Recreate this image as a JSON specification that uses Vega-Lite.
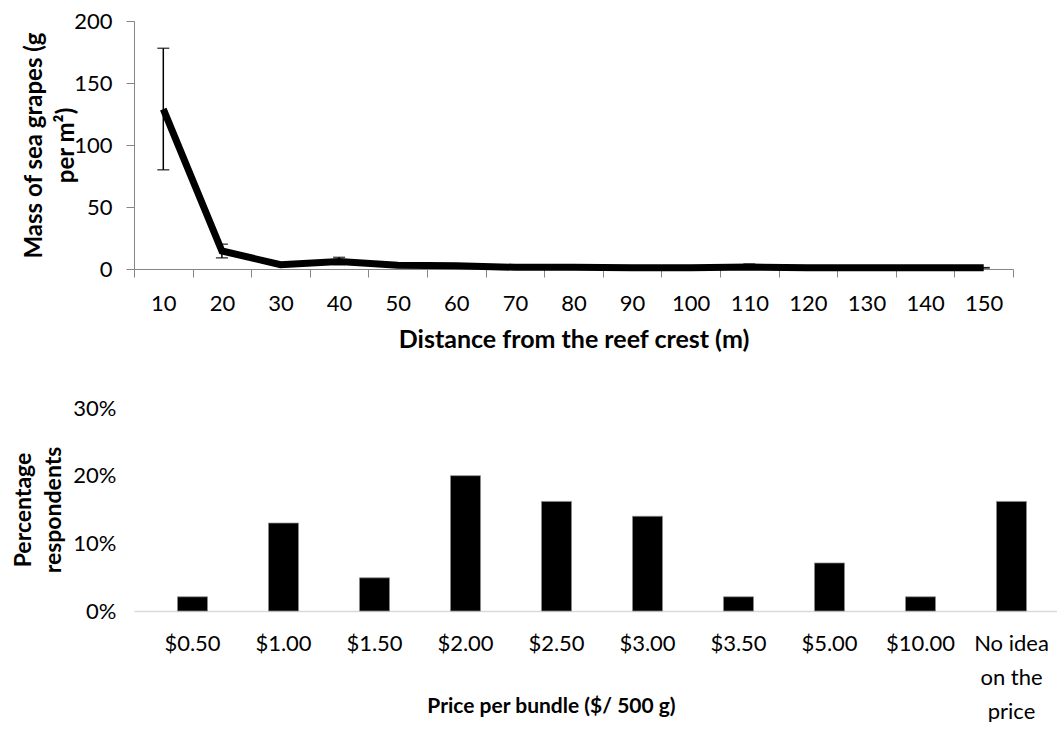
{
  "$schema": "https://vega.github.io/schema/vega-lite/v6.json",
  "background": "white",
  "padding": {"left": 11, "top": 10, "right": 0, "bottom": 0},
  "config": {
    "font": "Lato",
    "view": {"stroke": null},
    "axis": {"labelColor": "#000000", "titleColor": "#000000", "grid": false, "labelFont": "Lato", "titleFont": "Lato"}
  },
  "spacing": 45,
  "vconcat": [
    {
      "width": 879,
      "height": 248,
      "data": {
        "values": [
          {"distance": 10, "mass": 129, "lo": 80, "hi": 178},
          {"distance": 20, "mass": 14.5, "lo": 9, "hi": 20},
          {"distance": 30, "mass": 3.5, "lo": 2.5, "hi": 4.5},
          {"distance": 40, "mass": 6, "lo": 3.5, "hi": 9.4},
          {"distance": 50, "mass": 3, "lo": 2.5, "hi": 3.5},
          {"distance": 60, "mass": 2.6, "lo": 2.2, "hi": 3},
          {"distance": 70, "mass": 1.4, "lo": 1.2, "hi": 1.6},
          {"distance": 80, "mass": 1.4, "lo": 1.2, "hi": 1.6},
          {"distance": 90, "mass": 1, "lo": 0.8, "hi": 1.2},
          {"distance": 100, "mass": 1, "lo": 0.8, "hi": 1.2},
          {"distance": 110, "mass": 1.6, "lo": 0.5, "hi": 4},
          {"distance": 120, "mass": 1, "lo": 0.9, "hi": 1.1},
          {"distance": 130, "mass": 1, "lo": 0.9, "hi": 1.1},
          {"distance": 140, "mass": 1, "lo": 0.9, "hi": 1.1},
          {"distance": 150, "mass": 1, "lo": 0.9, "hi": 1.1}
        ]
      },
      "encoding": {
        "x": {
          "field": "distance",
          "type": "ordinal",
          "scale": {"type": "band", "paddingInner": 0, "paddingOuter": 0},
          "axis": {
            "title": "Distance from the reef crest (m)",
            "labelAngle": 0,
            "tickBand": "extent",
            "tickSize": 8,
            "tickColor": "#868686",
            "domainColor": "#868686",
            "labelFontSize": 22,
            "labelPadding": 16,
            "titleFontSize": 25,
            "titleFontWeight": "bold",
            "titleY": 78,
            "titleBaseline": "alphabetic"
          }
        }
      },
      "layer": [
        {
          "mark": {"type": "rule", "color": "black", "strokeWidth": 1.5},
          "encoding": {
            "y": {
              "field": "lo",
              "type": "quantitative",
              "scale": {"domain": [0, 200]},
              "axis": {
                "title": ["Mass of sea grapes (g", "per m²)"],
                "values": [0, 50, 100, 150, 200],
                "tickSize": 8,
                "tickColor": "#868686",
                "domainColor": "#868686",
                "labelFontSize": 22,
                "labelPadding": 14,
                "titleFontSize": 24,
                "titleFontWeight": "bold",
                "titleX": -88,
                "titleBaseline": "bottom",
                "titleLineHeight": 32
              }
            },
            "y2": {"field": "hi"}
          }
        },
        {
          "mark": {"type": "tick", "color": "black", "thickness": 1.5, "size": 12},
          "encoding": {
            "y": {
              "field": "lo",
              "type": "quantitative",
              "scale": {"domain": [0, 200]},
              "axis": {
                "title": ["Mass of sea grapes (g", "per m²)"],
                "values": [0, 50, 100, 150, 200],
                "tickSize": 8,
                "tickColor": "#868686",
                "domainColor": "#868686",
                "labelFontSize": 22,
                "labelPadding": 14,
                "titleFontSize": 24,
                "titleFontWeight": "bold",
                "titleX": -88,
                "titleBaseline": "bottom",
                "titleLineHeight": 32
              }
            }
          }
        },
        {
          "mark": {"type": "tick", "color": "black", "thickness": 1.5, "size": 12},
          "encoding": {
            "y": {
              "field": "hi",
              "type": "quantitative",
              "scale": {"domain": [0, 200]},
              "axis": {
                "title": ["Mass of sea grapes (g", "per m²)"],
                "values": [0, 50, 100, 150, 200],
                "tickSize": 8,
                "tickColor": "#868686",
                "domainColor": "#868686",
                "labelFontSize": 22,
                "labelPadding": 14,
                "titleFontSize": 24,
                "titleFontWeight": "bold",
                "titleX": -88,
                "titleBaseline": "bottom",
                "titleLineHeight": 32
              }
            }
          }
        },
        {
          "mark": {"type": "line", "color": "black", "strokeWidth": 7},
          "encoding": {
            "y": {
              "field": "mass",
              "type": "quantitative",
              "scale": {"domain": [0, 200]},
              "axis": {
                "title": ["Mass of sea grapes (g", "per m²)"],
                "values": [0, 50, 100, 150, 200],
                "tickSize": 8,
                "tickColor": "#868686",
                "domainColor": "#868686",
                "labelFontSize": 22,
                "labelPadding": 14,
                "titleFontSize": 24,
                "titleFontWeight": "bold",
                "titleX": -88,
                "titleBaseline": "bottom",
                "titleLineHeight": 32
              }
            }
          }
        }
      ]
    },
    {
      "width": 923,
      "height": 203,
      "data": {
        "values": [
          {"price": "$0.50", "pct": 0.021},
          {"price": "$1.00", "pct": 0.13},
          {"price": "$1.50", "pct": 0.049},
          {"price": "$2.00", "pct": 0.2},
          {"price": "$2.50", "pct": 0.162},
          {"price": "$3.00", "pct": 0.14},
          {"price": "$3.50", "pct": 0.021},
          {"price": "$5.00", "pct": 0.071},
          {"price": "$10.00", "pct": 0.021},
          {"price": "No idea on the price", "pct": 0.162}
        ]
      },
      "mark": {"type": "bar", "color": "black", "size": 30, "stroke": "#8c8c8c", "strokeWidth": 0.75},
      "encoding": {
        "x": {
          "field": "price",
          "type": "nominal",
          "sort": null,
          "scale": {"paddingInner": 0, "paddingOuter": 0.0714, "align": 1},
          "axis": {
            "title": "Price per bundle ($/ 500 g)",
            "labelAngle": 0,
            "ticks": false,
            "domainColor": "#d9d9d9",
            "domainWidth": 1.5,
            "labelFontSize": 22,
            "labelPadding": 22,
            "labelLineHeight": 34,
            "labelExpr": "datum.value == 'No idea on the price' ? ['No idea', 'on the', 'price'] : datum.label",
            "titleFontSize": 21,
            "titleFontWeight": "bold",
            "titleX": 417,
            "titleY": 101,
            "titleBaseline": "alphabetic"
          }
        },
        "y": {
          "field": "pct",
          "type": "quantitative",
          "scale": {"domain": [0, 0.3]},
          "axis": {
            "format": ".0%",
            "values": [0, 0.1, 0.2, 0.3],
            "domain": false,
            "ticks": false,
            "labelPadding": 18,
            "labelFontSize": 22,
            "title": ["Percentage", "respondents"],
            "titleFontSize": 23,
            "titleFontWeight": "bold",
            "titleX": -99,
            "titleBaseline": "bottom",
            "titleLineHeight": 30
          }
        }
      }
    }
  ]
}
